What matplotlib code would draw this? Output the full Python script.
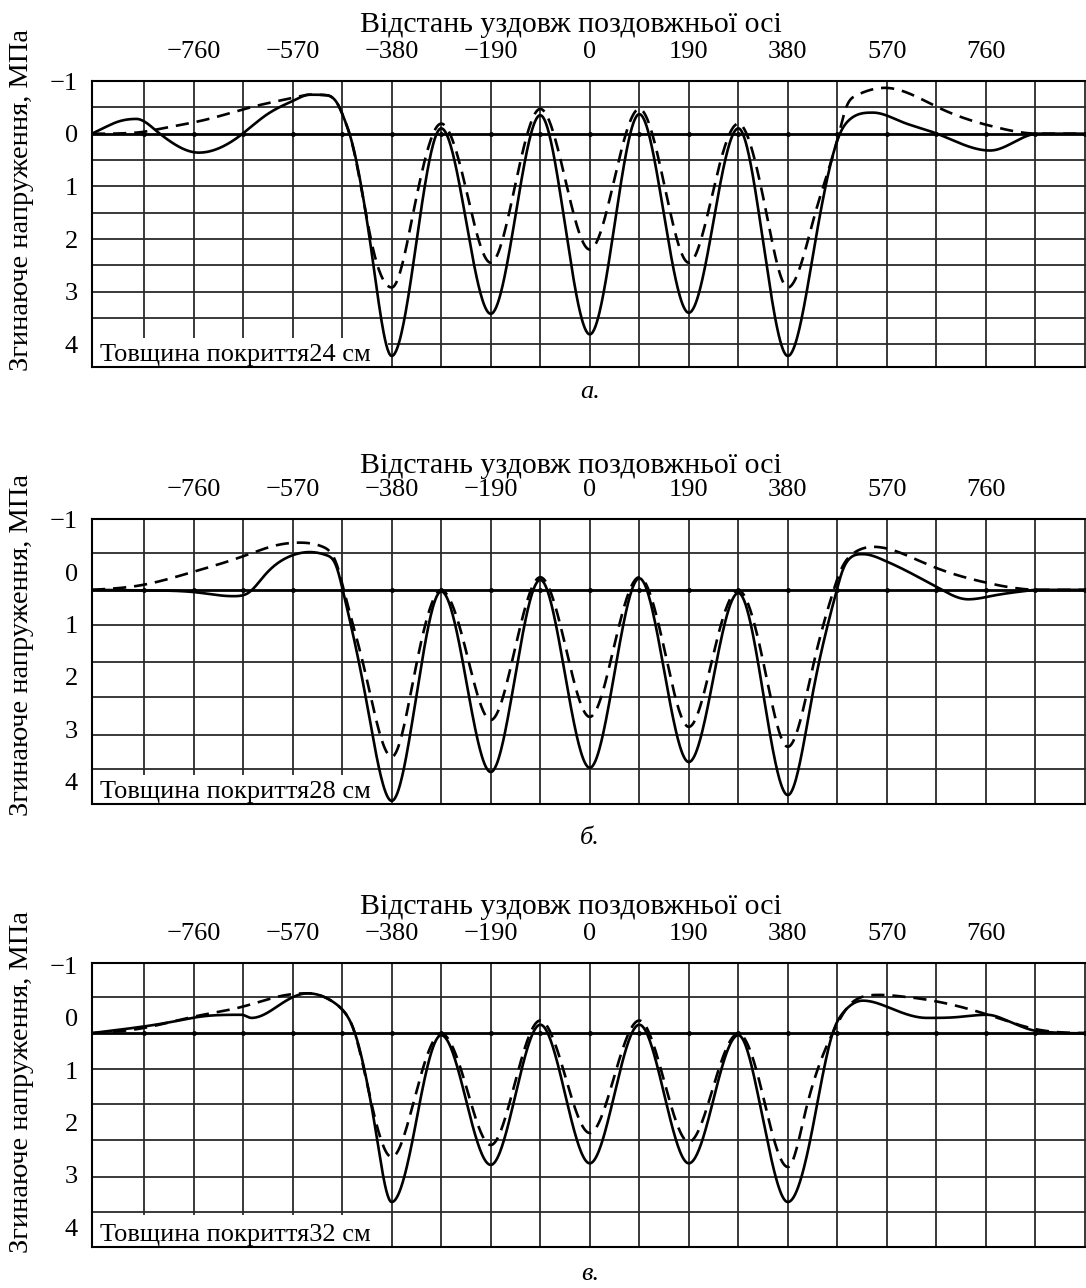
import numpy as np
import matplotlib
matplotlib.use("Agg")
import matplotlib.pyplot as plt
from matplotlib.patches import Rectangle

plt.rcParams['font.family'] = ['Liberation Serif', 'DejaVu Serif']

# --- data (x: distance along axis, y: stress, MPa) ---
x_ticks = [-760, -570, -380, -190, 0, 190, 380, 570, 760]
y_ticks = [-1, 0, 1, 2, 3, 4]
thickness = [24, 28, 32]
captions = ["а.", "б.", "в."]

xa_solid = [-955, -915, -870, -825, -750, -666, -620, -570, -537, -505, -486, -468, -461, -420, -380,
            -332.5, -285, -237.5, -190, -142.5, -95, -47.5, 0, 47.5, 95, 142.5, 190, 237.5, 285,
            332.5, 380, 430, 480, 500, 543, 605, 666, 768, 860, 955]
ya_solid = [0, -0.19, -0.28, 0, 0.36, 0, -0.36, -0.62, -0.74, -0.73, -0.6, -0.2, 0, 2.15, 4.22,
            2.05, -0.1, 1.65, 3.42, 1.55, -0.35, 1.73, 3.81, 1.73, -0.37, 1.55, 3.40, 1.65, -0.1,
            2.05, 4.22, 2.2, 0, -0.28, -0.4, -0.2, 0, 0.32, 0, 0]
xa_dash = [-955, -870, -825, -723, -647, -570, -537, -505, -486, -468, -461, -420, -380,
           -332.5, -285, -237.5, -190, -142.5, -95, -47.5, 0, 47.5, 95, 142.5, 190, 237.5, 285,
           332.5, 380, 430, 478, 492, 510, 566, 670, 768, 860, 955]
ya_dash = [0, -0.02, -0.09, -0.3, -0.51, -0.68, -0.74, -0.73, -0.6, -0.2, 0, 2.0, 2.92,
           1.2, -0.19, 1.05, 2.45, 0.95, -0.47, 0.85, 2.2, 0.85, -0.47, 0.95, 2.45, 1.05, -0.19,
           1.2, 2.92, 1.6, 0, -0.5, -0.72, -0.87, -0.49, -0.15, 0, 0]

xb_solid = [-955, -860, -762, -685, -659, -620, -570, -537, -505, -486, -474, -430, -380,
            -332.5, -285, -237.5, -190, -142.5, -95, -47.5, 0, 47.5, 95, 142.5, 190, 237.5, 285,
            332.5, 380, 428, 474, 484, 493, 524, 572, 668, 726, 764, 820, 860, 955]
yb_solid = [0.34, 0.35, 0.38, 0.46, 0.42, 0.02, -0.32, -0.38, -0.32, -0.1, 0.34, 2.38, 4.36,
            2.35, 0.37, 2.05, 3.81, 1.95, 0.15, 1.95, 3.73, 1.92, 0.12, 1.87, 3.62, 2.0, 0.4,
            2.3, 4.25, 2.3, 0.34, 0.0, -0.19, -0.34, -0.19, 0.3, 0.52, 0.47, 0.38, 0.34, 0.34]
xb_dash = [-955, -860, -762, -668, -601, -557, -512, -484, -472, -430, -380,
           -332.5, -285, -237.5, -190, -142.5, -95, -47.5, 0, 47.5, 95, 142.5, 190, 237.5, 285,
           332.5, 380, 428, 468, 480, 509, 544, 600, 659, 764, 812, 860, 955]
yb_dash = [0.34, 0.25, 0.0, -0.29, -0.51, -0.56, -0.48, -0.1, 0.34, 1.95, 3.52,
           1.75, 0.35, 1.5, 2.82, 1.42, 0.1, 1.38, 2.76, 1.38, 0.1, 1.45, 2.95, 1.55, 0.35,
           1.7, 3.33, 1.8, 0.34, 0.0, -0.38, -0.48, -0.35, -0.1, 0.21, 0.3, 0.34, 0.34]

xc_solid = [-955, -860, -762, -668, -649, -601, -541, -493, -474, -455, -415, -380,
            -332.5, -285, -237.5, -190, -142.5, -95, -47.5, 0, 47.5, 95, 142.5, 190, 237.5, 285,
            332.5, 380, 428, 466, 486, 524, 576, 647, 710, 762, 812, 858, 955]
yc_solid = [0.29, 0.17, 0.0, -0.06, 0.0, -0.21, -0.47, -0.31, -0.15, 0.17, 1.9, 3.52,
            1.95, 0.33, 1.57, 2.81, 1.47, 0.13, 1.45, 2.78, 1.45, 0.13, 1.45, 2.78, 1.55, 0.33,
            1.95, 3.52, 2.08, 0.29, -0.1, -0.33, -0.19, 0.0, -0.02, -0.06, 0.1, 0.25, 0.29]
xc_dash = [-955, -860, -762, -668, -601, -541, -493, -474, -455, -415, -380,
           -332.5, -285, -237.5, -190, -142.5, -95, -47.5, 0, 47.5, 95, 142.5, 190, 237.5, 285,
           332.5, 380, 416, 466, 505, 557, 608, 668, 764, 858, 955]
yc_dash = [0.29, 0.2, -0.02, -0.21, -0.4, -0.47, -0.31, -0.15, 0.17, 1.8, 2.66,
           1.4, 0.3, 1.3, 2.43, 1.2, 0.05, 1.1, 2.2, 1.1, 0.05, 1.2, 2.37, 1.3, 0.3,
           1.5, 2.85, 1.7, 0.29, -0.31, -0.44, -0.4, -0.31, -0.06, 0.22, 0.29]

solids = [(xa_solid, ya_solid), (xb_solid, yb_solid), (xc_solid, yc_solid)]
dashes = [(xa_dash, ya_dash), (xb_dash, yb_dash), (xc_dash, yc_dash)]

# --- layout (pixels of the 1086x1288 picture) ---
W, H = 1086, 1288
tops = [81, 519, 963]
bottoms = [367, 804, 1247]
ylims = [(4.43, -0.98), (4.42, -1.01), (4.38, -1.05)]
grid_rows = [[-0.5, 0.5, 1, 1.5, 2, 2.5, 3, 3.5, 4],
             [-0.36, 1.01, 1.71, 2.38, 3.10, 3.75],
             [-0.40, 0.98, 1.65, 2.33, 3.04, 3.71]]
baselines = [0, 0.34, 0.29]
box_tops = [3.87, 3.87, 3.77]
title_y = [25, 466, 907]
caption_y = [392, 838, 1274]
ylabel_y = [200, 645, 1082]
x_left, x_right = -955, 952
grid_cols = np.arange(-855, 951, 95)


def smooth(x, y, n=1500):
    # slopes of a natural cubic spline, limited so that no bump is added
    # between read points (Fritsch-Carlson), then a cubic Hermite curve
    x = np.asarray(x, float)
    y = np.asarray(y, float)
    k = len(x)
    h = np.diff(x)
    d = np.diff(y) / h
    A = np.zeros((k, k))
    r = np.zeros(k)
    A[0, 0] = A[-1, -1] = 1
    for i in range(1, k - 1):
        A[i, i - 1] = h[i - 1]
        A[i, i] = 2 * (h[i - 1] + h[i])
        A[i, i + 1] = h[i]
        r[i] = 6 * (d[i] - d[i - 1])
    M = np.linalg.solve(A, r)
    m = np.empty(k)
    m[:-1] = d - h * (2 * M[:-1] + M[1:]) / 6
    m[-1] = d[-1] + h[-1] * (M[-2] + 2 * M[-1]) / 6
    for i in range(1, k - 1):
        if d[i - 1] * d[i] <= 0:
            m[i] = 0
    for i in range(k - 1):
        if d[i] == 0:
            m[i] = m[i + 1] = 0
            continue
        a, b = m[i] / d[i], m[i + 1] / d[i]
        if a < 0:
            m[i] = 0
        if b < 0:
            m[i + 1] = 0
        s = a * a + b * b
        if s > 9:
            t = 3 / np.sqrt(s)
            m[i] = t * a * d[i]
            m[i + 1] = t * b * d[i]
    xs = np.linspace(x[0], x[-1], n)
    i = np.clip(np.searchsorted(x, xs) - 1, 0, k - 2)
    t = (xs - x[i]) / h[i]
    ys = (2 * t**3 - 3 * t**2 + 1) * y[i] + (t**3 - 2 * t**2 + t) * h[i] * m[i] \
        + (-2 * t**3 + 3 * t**2) * y[i + 1] + (t**3 - t**2) * h[i] * m[i + 1]
    return xs, ys


fig = plt.figure(figsize=(W / 100, H / 100), dpi=100)

for p in range(3):
    left = 92 / W
    ax = fig.add_axes([left, 1 - bottoms[p] / H, 1 - left, (bottoms[p] - tops[p]) / H])
    ax.set_xlim(x_left, x_right)
    ax.set_ylim(*ylims[p])

    for gx in grid_cols:
        ax.axvline(gx, color='#2a2a2a', lw=1.3, zorder=1)
    for gy in grid_rows[p]:
        ax.axhline(gy, color='#2a2a2a', lw=1.3, zorder=1)
    ax.axhline(baselines[p], color='black', lw=2.0, zorder=1)
    ax.plot(grid_cols, [baselines[p]] * len(grid_cols), 'k.', ms=5, zorder=1)

    # white label box in the lower left corner
    ax.add_patch(Rectangle((x_left, box_tops[p]), -388 - x_left, ylims[p][0] - box_tops[p],
                           facecolor='white', edgecolor='none', zorder=2))
    ax.text(x_left + 16, ylims[p][0] - 0.02, f"Товщина покриття{thickness[p]} см",
            fontsize=19, va='bottom', ha='left', zorder=4)

    xs, ys = smooth(*solids[p])
    ax.plot(xs, ys, color='black', lw=1.9, zorder=3)
    xs, ys = smooth(*dashes[p])
    ax.plot(xs, ys, color='black', lw=1.9, ls=(0, (5, 3)), zorder=3)

    ax.xaxis.tick_top()
    ax.set_xticks(x_ticks)
    ax.set_xticklabels([str(v).replace('-', '\u2212') for v in x_ticks])
    ax.set_yticks(y_ticks)
    ax.set_yticklabels([str(v).replace('-', '\u2212') for v in y_ticks])
    ax.tick_params(length=0, labelsize=19, pad=10)
    ax.tick_params(axis='x', pad=13)
    ax.spines['right'].set_visible(False)
    for s in ['left', 'top', 'bottom']:
        ax.spines[s].set_linewidth(1.5)

    fig.text(571 / W, 1 - title_y[p] / H, "Відстань уздовж поздовжньої осі",
             fontsize=21.5, ha='center', va='center')
    fig.text(590 / W, 1 - caption_y[p] / H, captions[p], fontsize=19,
             style='italic', ha='center', va='center')
    fig.text(22 / W, 1 - ylabel_y[p] / H, "Згинаюче напруження, МПа", fontsize=20.5,
             rotation=90, ha='center', va='center')

fig.savefig("out.png", dpi=100)
